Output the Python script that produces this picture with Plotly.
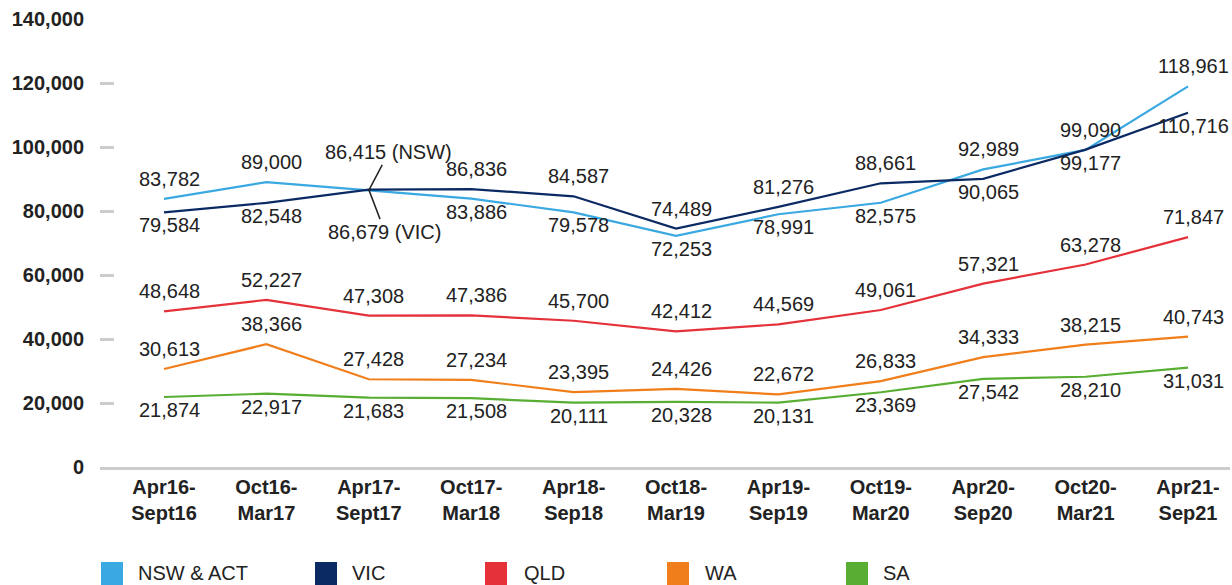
import plotly.graph_objects as go

# ---------------- data ----------------
categories = ["Apr16-<br>Sept16", "Oct16-<br>Mar17", "Apr17-<br>Sept17", "Oct17-<br>Mar18",
              "Apr18-<br>Sep18", "Oct18-<br>Mar19", "Apr19-<br>Sep19", "Oct19-<br>Mar20",
              "Apr20-<br>Sep20", "Oct20-<br>Mar21", "Apr21-<br>Sep21"]
nsw_act = [83782, 89000, 86415, 83886, 79578, 72253, 78991, 82575, 92989, 99090, 118961]
vic = [79584, 82548, 86679, 86836, 84587, 74489, 81276, 88661, 90065, 99177, 110716]
qld = [48648, 52227, 47308, 47386, 45700, 42412, 44569, 49061, 57321, 63278, 71847]
wa = [30613, 38366, 27428, 27234, 23395, 24426, 22672, 26833, 34333, 38215, 40743]
sa = [21874, 22917, 21683, 21508, 20111, 20328, 20131, 23369, 27542, 28210, 31031]
series_names = ["NSW & ACT", "VIC", "QLD", "WA", "SA"]
y_tick_values = [0, 20000, 40000, 60000, 80000, 100000, 120000, 140000]

# ---------------- styles ----------------
colors = ["#3AA8E1", "#0B2A63", "#E5313A", "#F07E1A", "#57AE32"]
U, D, S = "up", "down", "special"
label_sides = [
    [U, U, S, D, D, D, D, D, U, U, U],
    [D, D, S, U, U, U, U, U, D, D, D],
    [U] * 11,
    [U] * 11,
    [D] * 11,
]
TEXT = "#222222"
FONT = "Liberation Sans, Arial, sans-serif"

all_series = [nsw_act, vic, qld, wa, sa]
xs = list(range(len(categories)))

fig = go.Figure()
annotations = []
for name, vals, col, sides in zip(series_names, all_series, colors, label_sides):
    fig.add_trace(go.Scatter(x=xs, y=vals, mode="lines", name=name,
                             line=dict(color=col, width=2.2), showlegend=False,
                             hoverinfo="x+y+name"))
    for i, (v, s) in enumerate(zip(vals, sides)):
        if s == S:
            continue
        annotations.append(dict(x=i, y=v, xref="x", yref="y", text=f"{v:,}", showarrow=False,
                                xanchor="center", yanchor="middle", xshift=5,
                                yshift=20 if s == U else -13,
                                font=dict(size=20, color=TEXT, family=FONT)))

# special labels with leader lines (Apr17)
annotations.append(dict(x=2, y=nsw_act[2], xref="x", yref="y", text=f"{nsw_act[2]:,} (NSW)",
                        showarrow=True, arrowhead=0, arrowwidth=1.5, arrowcolor=TEXT,
                        ax=20, ay=-38, font=dict(size=20, color=TEXT, family=FONT)))
annotations.append(dict(x=2, y=vic[2], xref="x", yref="y", text=f"{vic[2]:,} (VIC)",
                        showarrow=True, arrowhead=0, arrowwidth=1.5, arrowcolor=TEXT,
                        ax=16, ay=42, font=dict(size=20, color=TEXT, family=FONT)))

# custom legend (squares + text) at the bottom
PLOT_L, PLOT_W, ZERO_Y, PLOT_H = 100, 1130, 467, 448
sq_left_px = [101, 315, 485, 667, 846]
txt_left_px = [136, 350, 522, 703, 881]
shapes = []
for name, col, sx, tx in zip(series_names, colors, sq_left_px, txt_left_px):
    shapes.append(dict(type="rect", xref="paper", yref="paper",
                       x0=(sx - PLOT_L) / PLOT_W, x1=(sx + 22 - PLOT_L) / PLOT_W,
                       y0=(ZERO_Y - 585) / PLOT_H, y1=(ZERO_Y - 562) / PLOT_H,
                       fillcolor=col, line=dict(width=0)))
    annotations.append(dict(x=(tx - PLOT_L) / PLOT_W, y=(ZERO_Y - 573) / PLOT_H,
                            xref="paper", yref="paper", text=name, showarrow=False,
                            xanchor="left", yanchor="middle",
                            font=dict(size=20, color=TEXT, family=FONT)))

fig.update_layout(
    width=1232, height=585,
    margin=dict(l=100, r=2, t=19, b=118),
    paper_bgcolor="white", plot_bgcolor="white",
    showlegend=False,
    annotations=annotations, shapes=shapes,
    font=dict(family=FONT, color=TEXT),
)
fig.update_xaxes(
    range=[-0.625, 10.41], tickmode="array", tickvals=xs, ticktext=categories,
    showgrid=False, zeroline=False, showline=True, linecolor="#CCCCCC", linewidth=3,
    ticks="", ticklabelstandoff=0,
    tickfont=dict(size=20, color=TEXT, family=FONT, weight="bold"),
)
fig.update_yaxes(
    range=[0, 140000], tickmode="array", tickvals=y_tick_values,
    ticktext=[f"{v:,}" for v in y_tick_values],
    showgrid=False, zeroline=False, showline=False,
    ticks="inside", ticklen=14, tickwidth=3, tickcolor="#CCCCCC",
    ticklabelstandoff=15,
    tickfont=dict(size=20, color=TEXT, family=FONT, weight="bold"),
)

fig.write_html("out.html", config={"displayModeBar": False},
               post_script="document.body.style.margin='0';document.body.style.overflow='hidden';")
